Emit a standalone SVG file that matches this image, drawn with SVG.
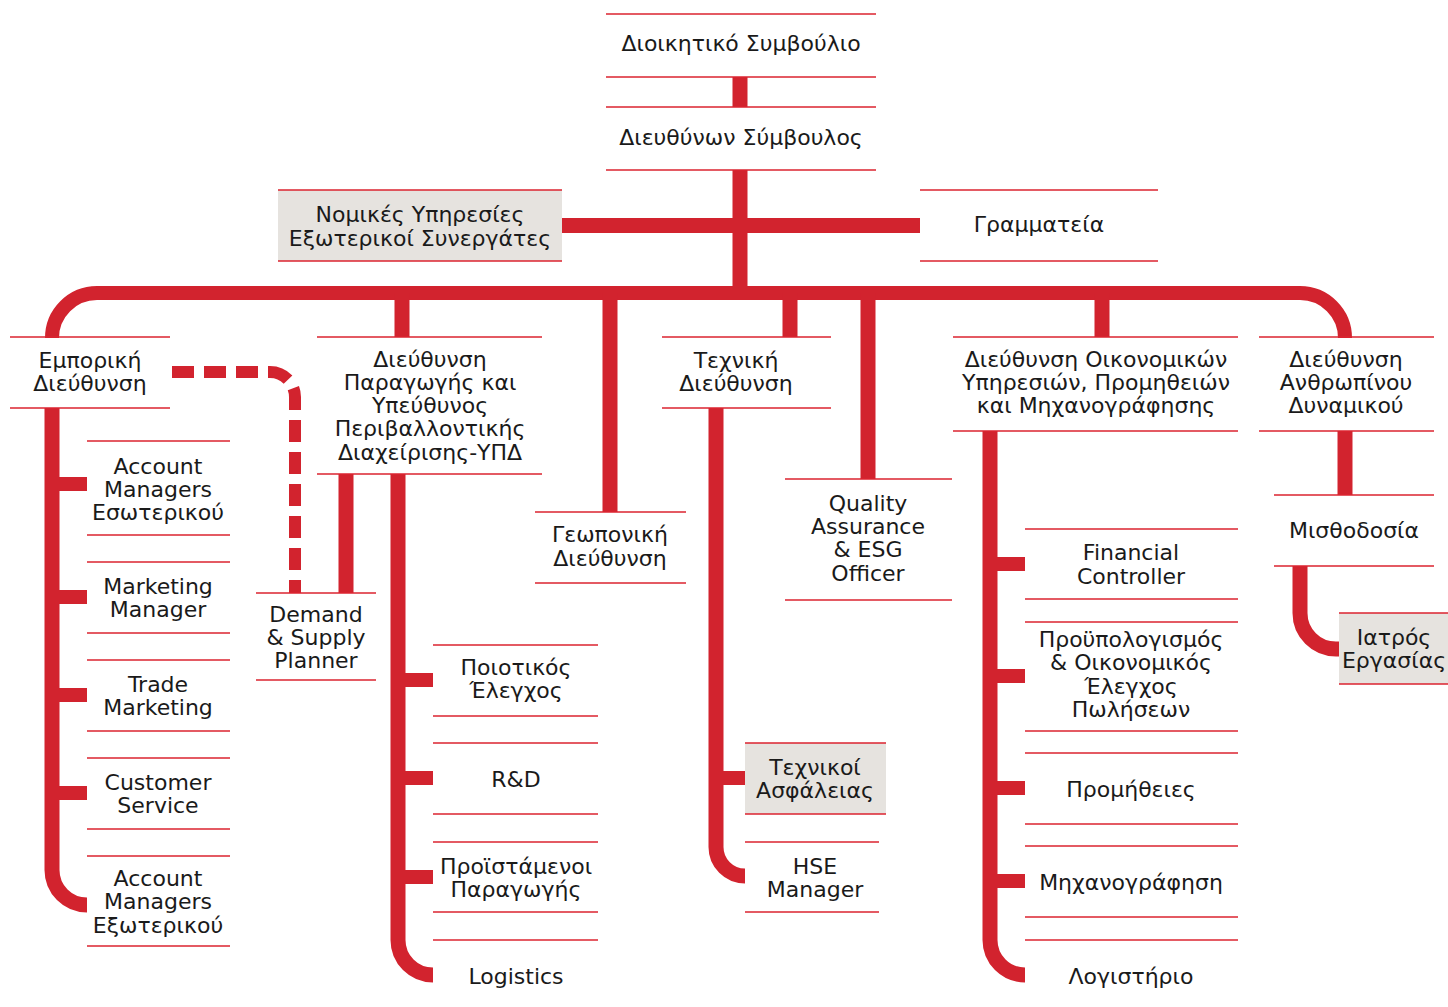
<svg xmlns="http://www.w3.org/2000/svg" width="1448" height="1007" viewBox="0 0 1448 1007">
<style>
.ln{stroke:#dc2430;stroke-width:1.6;fill:none}
.gr{fill:#e6e3df}
.c{stroke:#d2232e;stroke-width:15;fill:none}
.s{stroke:#d2232e;stroke-width:14;fill:none}
.d{stroke:#d2232e;stroke-width:12;fill:none;stroke-dasharray:22 10}
text{font-family:"DejaVu Sans","Noto Sans",sans-serif;font-size:22px;fill:#1a1a1a;text-anchor:middle}
</style>
<rect width="1448" height="1007" fill="#ffffff"/>
<g id="connectors">
<path class="c" d="M740,77V107M740,170V293"/>
<path class="c" d="M562,225.5H920"/>
<path class="s" d="M52,338A45,45 0 0 1 97,293H1300A45,45 0 0 1 1345,338"/>
<path class="c" d="M402,293V337M610,293V512M790,293V337M868,293V479M1102,293V337"/>
<path class="c" d="M52,408V870A35,35 0 0 0 87,905"/>
<path class="s" d="M52,484H87M52,597H87M52,695H87M52,793H87"/>
<path class="d" d="M172,372H270A25,25 0 0 1 295,397V593"/>
<path class="c" d="M346,474V593"/>
<path class="c" d="M398,474V940A35,35 0 0 0 433,975"/>
<path class="s" d="M398,680H433M398,778H433M398,877H433"/>
<path class="c" d="M716,408V847A29,29 0 0 0 745,876"/>
<path class="s" d="M716,778H745"/>
<path class="c" d="M990,431V940A35,35 0 0 0 1025,975"/>
<path class="s" d="M990,564H1025M990,676H1025M990,788H1025M990,881H1025"/>
<path class="c" d="M1345,431V495"/>
<path class="c" d="M1300,566V613A36,36 0 0 0 1336,649H1340"/>
</g>
<g id="n_board"><path class="ln" d="M606,14H876M606,77H876"/><text x="741" y="51">Διοικητικό Συμβούλιο</text></g>
<g id="n_ceo"><path class="ln" d="M606,107H876M606,170H876"/><text x="741" y="145">Διευθύνων Σύμβουλος</text></g>
<g id="n_legal"><rect class="gr" x="278" y="190" width="284" height="71"/><path class="ln" d="M278,190H562M278,261H562"/><text x="420" y="222">Νομικές Υπηρεσίες</text><text x="420" y="246">Εξωτερικοί Συνεργάτες</text></g>
<g id="n_secretariat"><path class="ln" d="M920,190H1158M920,261H1158"/><text x="1039" y="232">Γραμματεία</text></g>
<g id="n_commercial"><path class="ln" d="M10,337H170M10,408H170"/><text x="90" y="368">Εμπορική</text><text x="90" y="391">Διεύθυνση</text></g>
<g id="n_production"><path class="ln" d="M317,337H542M317,474H542"/><text x="430" y="367">Διεύθυνση</text><text x="430" y="390">Παραγωγής και</text><text x="430" y="413">Υπεύθυνος</text><text x="430" y="436">Περιβαλλοντικής</text><text x="430" y="460">Διαχείρισης-ΥΠΔ</text></g>
<g id="n_demand"><path class="ln" d="M256,593H376M256,680H376"/><text x="316" y="622">Demand</text><text x="316" y="645">&amp; Supply</text><text x="316" y="668">Planner</text></g>
<g id="n_geo"><path class="ln" d="M535,512H686M535,583H686"/><text x="610" y="542">Γεωπονική</text><text x="610" y="566">Διεύθυνση</text></g>
<g id="n_tech"><path class="ln" d="M662,337H831M662,408H831"/><text x="736" y="368">Τεχνική</text><text x="736" y="391">Διεύθυνση</text></g>
<g id="n_qa"><path class="ln" d="M785,479H952M785,600H952"/><text x="868" y="511">Quality</text><text x="868" y="534">Assurance</text><text x="868" y="557">&amp; ESG</text><text x="868" y="581">Officer</text></g>
<g id="n_finance"><path class="ln" d="M953,337H1238M953,431H1238"/><text x="1096" y="367">Διεύθυνση Οικονομικών</text><text x="1096" y="390">Υπηρεσιών, Προμηθειών</text><text x="1096" y="413">και Μηχανογράφησης</text></g>
<g id="n_hr"><path class="ln" d="M1259,337H1434M1259,431H1434"/><text x="1346" y="367">Διεύθυνση</text><text x="1346" y="390">Ανθρωπίνου</text><text x="1346" y="413">Δυναμικού</text></g>
<g id="n_payroll"><path class="ln" d="M1274,495H1434M1274,566H1434"/><text x="1354" y="538">Μισθοδοσία</text></g>
<g id="n_doctor"><rect class="gr" x="1339" y="613" width="109" height="71"/><path class="ln" d="M1339,613H1448M1339,684H1448"/><text x="1394" y="645">Ιατρός</text><text x="1394" y="668">Εργασίας</text></g>
<g id="n_am_int"><path class="ln" d="M87,441H230M87,535H230"/><text x="158" y="474">Account</text><text x="158" y="497">Managers</text><text x="158" y="520">Εσωτερικού</text></g>
<g id="n_marketing"><path class="ln" d="M87,562H230M87,633H230"/><text x="158" y="594">Marketing</text><text x="158" y="617">Manager</text></g>
<g id="n_trade"><path class="ln" d="M87,660H230M87,731H230"/><text x="158" y="692">Trade</text><text x="158" y="715">Marketing</text></g>
<g id="n_customer"><path class="ln" d="M87,758H230M87,829H230"/><text x="158" y="790">Customer</text><text x="158" y="813">Service</text></g>
<g id="n_am_ext"><path class="ln" d="M87,856H230M87,946H230"/><text x="158" y="886">Account</text><text x="158" y="909">Managers</text><text x="158" y="933">Εξωτερικού</text></g>
<g id="n_qc"><path class="ln" d="M433,645H598M433,716H598"/><text x="516" y="675">Ποιοτικός</text><text x="516" y="698">Έλεγχος</text></g>
<g id="n_rd"><path class="ln" d="M433,743H598M433,814H598"/><text x="516" y="787">R&amp;D</text></g>
<g id="n_supervisors"><path class="ln" d="M433,842H598M433,912H598"/><text x="516" y="874">Προϊστάμενοι</text><text x="516" y="897">Παραγωγής</text></g>
<g id="n_logistics"><path class="ln" d="M433,940H598"/><text x="516" y="984">Logistics</text></g>
<g id="n_safety"><rect class="gr" x="745" y="743" width="141" height="71"/><path class="ln" d="M745,743H886M745,814H886"/><text x="815" y="775">Τεχνικοί</text><text x="815" y="798">Ασφάλειας</text></g>
<g id="n_hse"><path class="ln" d="M745,842H879M745,912H879"/><text x="815" y="874">HSE</text><text x="815" y="897">Manager</text></g>
<g id="n_fc"><path class="ln" d="M1025,529H1238M1025,599H1238"/><text x="1131" y="560">Financial</text><text x="1131" y="584">Controller</text></g>
<g id="n_budget"><path class="ln" d="M1025,622H1238M1025,731H1238"/><text x="1131" y="647">Προϋπολογισμός</text><text x="1131" y="670">&amp; Οικονομικός</text><text x="1131" y="694">Έλεγχος</text><text x="1131" y="717">Πωλήσεων</text></g>
<g id="n_procurement"><path class="ln" d="M1025,753H1238M1025,824H1238"/><text x="1131" y="797">Προμήθειες</text></g>
<g id="n_it"><path class="ln" d="M1025,846H1238M1025,917H1238"/><text x="1131" y="890">Μηχανογράφηση</text></g>
<g id="n_accounting"><path class="ln" d="M1025,940H1238"/><text x="1131" y="984">Λογιστήριο</text></g>
</svg>
